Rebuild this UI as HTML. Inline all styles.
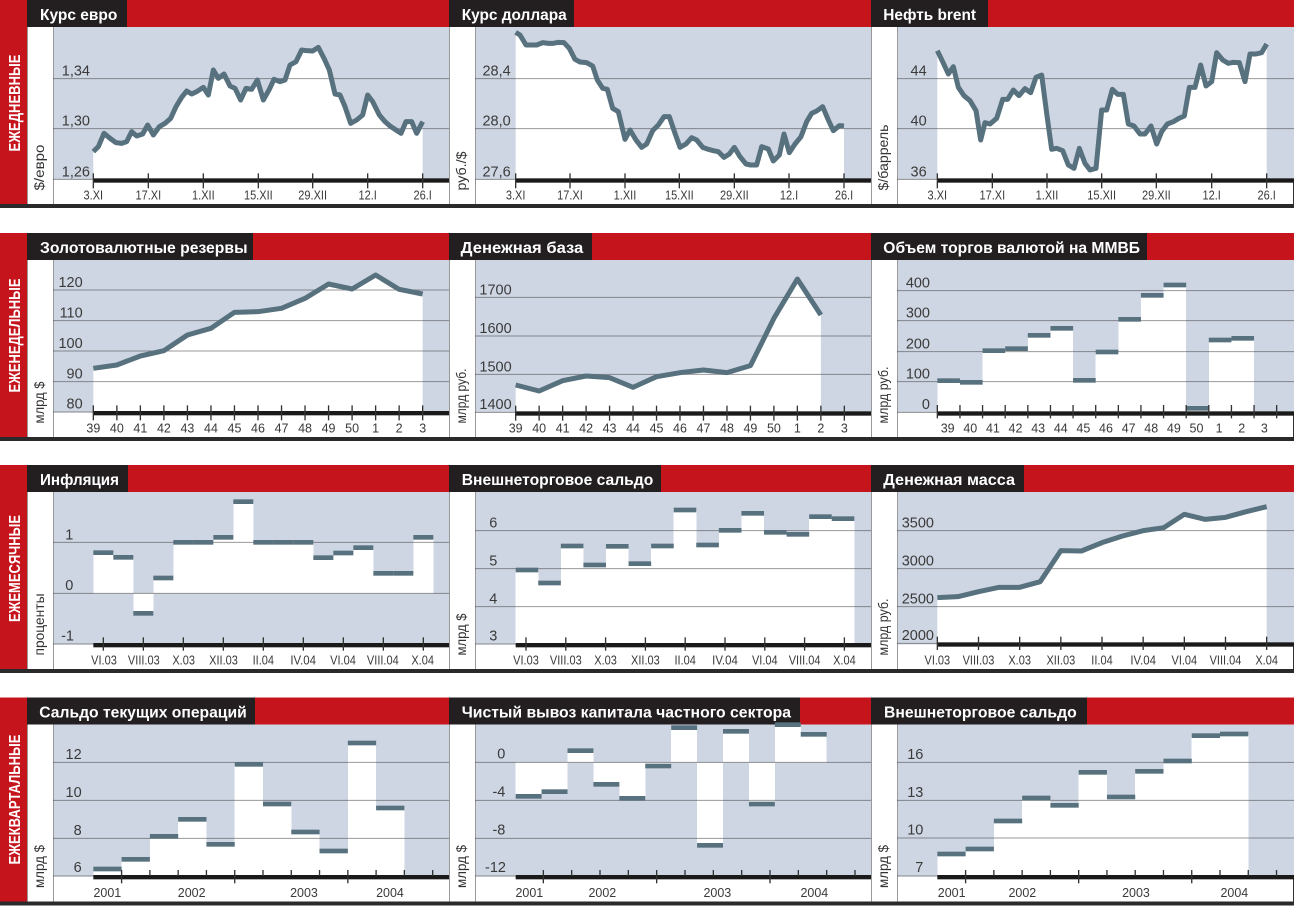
<!DOCTYPE html>
<html><head><meta charset="utf-8"><style>
html,body{margin:0;padding:0;background:#fff;width:1294px;height:907px;overflow:hidden}
svg{display:block}
.red{fill:#c5141c}.blk{fill:#231f20}.bg{fill:#cfd6e3}
.gl{stroke:#333;stroke-opacity:.5;stroke-width:3}
.ln{fill:none;stroke:#57717e;stroke-width:15;stroke-linejoin:round}
.w{fill:#fff}.w rect{shape-rendering:crispEdges}.d{fill:#57717e}.ax{fill:#1a1a1a}
.tk{stroke:#333;stroke-width:4}
.yl{font-size:43.5px;fill:#3a3a3a;text-anchor:end}
.xl{font-size:37.5px;fill:#3a3a3a;text-anchor:middle}
.ttl{font-size:16px;font-weight:bold;fill:#fff}
.unit{font-size:14px;fill:#333}
.side{font-size:16px;font-weight:bold;fill:#fff;text-anchor:middle}
.vl{stroke:#999;stroke-width:1}
.bl{fill:#2a2a2a}
</style></head><body>
<svg width="1294" height="907" viewBox="0 0 1294 907" font-family="'Liberation Sans', 'DejaVu Sans', sans-serif">

<!-- Row 1 T=0 -->
<rect class="red" x="0" y="0" width="1294" height="27"/>
<rect class="red" x="0" y="0" width="27" height="204"/>
<rect class="bg" x="53" y="27" width="396" height="152.5"/>
<rect class="bg" x="475" y="27" width="396" height="152.5"/>
<rect class="bg" x="897" y="27" width="397" height="152.5"/>
<rect class="bl" x="0" y="204" width="1294" height="4"/>
<rect class="blk" x="27" y="0" width="100" height="27"/>
<rect class="blk" x="449" y="0" width="125" height="27"/>
<rect class="blk" x="871" y="0" width="117" height="27"/>
<text class="ttl" x="40" y="20" textLength="77.3" lengthAdjust="spacingAndGlyphs">Курс евро</text>
<text class="ttl" x="461.7" y="20" textLength="105" lengthAdjust="spacingAndGlyphs">Курс доллара</text>
<text class="ttl" x="883.3" y="20" textLength="92.7" lengthAdjust="spacingAndGlyphs">Нефть brent</text>
<text class="side" transform="translate(20,103) rotate(-90)" textLength="97" lengthAdjust="spacingAndGlyphs">ЕЖЕДНЕВНЫЕ</text>
<text class="unit" transform="translate(44,190.5) rotate(-90)" textLength="46" lengthAdjust="spacingAndGlyphs">$/евро</text>
<text class="unit" transform="translate(466,190.5) rotate(-90)" textLength="39" lengthAdjust="spacingAndGlyphs">руб./$</text>
<text class="unit" transform="translate(888,190.5) rotate(-90)" textLength="66" lengthAdjust="spacingAndGlyphs">$/баррель</text>
<g class="vl"><line x1="27.5" y1="27" x2="27.5" y2="204"/><line x1="53.5" y1="27" x2="53.5" y2="204"/><line x1="449.5" y1="27" x2="449.5" y2="204"/><line x1="475.5" y1="27" x2="475.5" y2="204"/><line x1="871.5" y1="27" x2="871.5" y2="204"/><line x1="897.5" y1="27" x2="897.5" y2="204"/></g>
<line x1="1293.5" y1="180" x2="1293.5" y2="204" stroke="#333"/>

<!-- Row 2 T=233 -->
<rect class="red" x="0" y="233" width="1294" height="27"/>
<rect class="red" x="0" y="233" width="27" height="204"/>
<rect class="bg" x="53" y="260" width="396" height="152.5"/>
<rect class="bg" x="475" y="260" width="396" height="152.5"/>
<rect class="bg" x="897" y="260" width="397" height="152.5"/>
<rect class="bl" x="0" y="437" width="1294" height="4"/>
<rect class="blk" x="27" y="233" width="226" height="27"/>
<rect class="blk" x="449" y="233" width="143" height="27"/>
<rect class="blk" x="871" y="233" width="276" height="27"/>
<text class="ttl" x="40" y="253" textLength="207.5" lengthAdjust="spacingAndGlyphs">Золотовалютные резервы</text>
<text class="ttl" x="460.7" y="253" textLength="122.6" lengthAdjust="spacingAndGlyphs">Денежная база</text>
<text class="ttl" x="883.3" y="253" textLength="256.7" lengthAdjust="spacingAndGlyphs">Объем торгов валютой на ММВБ</text>
<text class="side" transform="translate(20,335.5) rotate(-90)" textLength="114" lengthAdjust="spacingAndGlyphs">ЕЖЕНЕДЕЛЬНЫЕ</text>
<text class="unit" transform="translate(44,423.5) rotate(-90)" textLength="42" lengthAdjust="spacingAndGlyphs">млрд $</text>
<text class="unit" transform="translate(466,423.5) rotate(-90)" textLength="55" lengthAdjust="spacingAndGlyphs">млрд руб.</text>
<text class="unit" transform="translate(888,423.5) rotate(-90)" textLength="57" lengthAdjust="spacingAndGlyphs">млрд руб.</text>
<g class="vl"><line x1="27.5" y1="260" x2="27.5" y2="437"/><line x1="53.5" y1="260" x2="53.5" y2="437"/><line x1="449.5" y1="260" x2="449.5" y2="437"/><line x1="475.5" y1="260" x2="475.5" y2="437"/><line x1="871.5" y1="260" x2="871.5" y2="437"/><line x1="897.5" y1="260" x2="897.5" y2="437"/></g>
<line x1="1293.5" y1="413" x2="1293.5" y2="437" stroke="#333"/>

<!-- Row 3 T=465 -->
<rect class="red" x="0" y="465" width="1294" height="27"/>
<rect class="red" x="0" y="465" width="27" height="204"/>
<rect class="bg" x="53" y="492" width="396" height="152.5"/>
<rect class="bg" x="475" y="492" width="396" height="152.5"/>
<rect class="bg" x="897" y="492" width="397" height="152.5"/>
<rect class="bl" x="0" y="669" width="1294" height="4"/>
<rect class="blk" x="27" y="465" width="101" height="27"/>
<rect class="blk" x="449" y="465" width="212" height="27"/>
<rect class="blk" x="871" y="465" width="153" height="27"/>
<text class="ttl" x="40" y="485" textLength="79" lengthAdjust="spacingAndGlyphs">Инфляция</text>
<text class="ttl" x="461.7" y="485" textLength="191.6" lengthAdjust="spacingAndGlyphs">Внешнеторговое сальдо</text>
<text class="ttl" x="883.3" y="485" textLength="131.7" lengthAdjust="spacingAndGlyphs">Денежная масса</text>
<text class="side" transform="translate(20,568.5) rotate(-90)" textLength="107" lengthAdjust="spacingAndGlyphs">ЕЖЕМЕСЯЧНЫЕ</text>
<text class="unit" transform="translate(44,655.5) rotate(-90)" textLength="62" lengthAdjust="spacingAndGlyphs">проценты</text>
<text class="unit" transform="translate(466,655.5) rotate(-90)" textLength="42" lengthAdjust="spacingAndGlyphs">млрд $</text>
<text class="unit" transform="translate(888,655.5) rotate(-90)" textLength="57" lengthAdjust="spacingAndGlyphs">млрд руб.</text>
<g class="vl"><line x1="27.5" y1="492" x2="27.5" y2="669"/><line x1="53.5" y1="492" x2="53.5" y2="669"/><line x1="449.5" y1="492" x2="449.5" y2="669"/><line x1="475.5" y1="492" x2="475.5" y2="669"/><line x1="871.5" y1="492" x2="871.5" y2="669"/><line x1="897.5" y1="492" x2="897.5" y2="669"/></g>
<line x1="1293.5" y1="645" x2="1293.5" y2="669" stroke="#333"/>

<!-- Row 4 T=697.5 -->
<rect class="red" x="0" y="697.5" width="1294" height="27"/>
<rect class="red" x="0" y="697.5" width="27" height="204"/>
<rect class="bg" x="53" y="724.5" width="396" height="152"/>
<rect class="bg" x="475" y="724.5" width="396" height="152"/>
<rect class="bg" x="897" y="724.5" width="397" height="152"/>
<rect class="bl" x="0" y="901.5" width="1294" height="4"/>
<rect class="blk" x="27" y="697.5" width="228" height="27"/>
<rect class="blk" x="449" y="697.5" width="351" height="27"/>
<rect class="blk" x="871" y="697.5" width="216" height="27"/>
<text class="ttl" x="39.3" y="717.5" textLength="207.4" lengthAdjust="spacingAndGlyphs">Сальдо текущих операций</text>
<text class="ttl" x="461.7" y="717.5" textLength="329.3" lengthAdjust="spacingAndGlyphs">Чистый вывоз капитала частного сектора</text>
<text class="ttl" x="884" y="717.5" textLength="192.7" lengthAdjust="spacingAndGlyphs">Внешнеторговое сальдо</text>
<text class="side" transform="translate(20,799.5) rotate(-90)" textLength="130" lengthAdjust="spacingAndGlyphs">ЕЖЕКВАРТАЛЬНЫЕ</text>
<text class="unit" transform="translate(44,888) rotate(-90)" textLength="43" lengthAdjust="spacingAndGlyphs">млрд $</text>
<text class="unit" transform="translate(466,888) rotate(-90)" textLength="43" lengthAdjust="spacingAndGlyphs">млрд $</text>
<text class="unit" transform="translate(888,888) rotate(-90)" textLength="43" lengthAdjust="spacingAndGlyphs">млрд $</text>
<g class="vl"><line x1="27.5" y1="724.5" x2="27.5" y2="901.5"/><line x1="53.5" y1="724.5" x2="53.5" y2="901.5"/><line x1="449.5" y1="724.5" x2="449.5" y2="901.5"/><line x1="475.5" y1="724.5" x2="475.5" y2="901.5"/><line x1="871.5" y1="724.5" x2="871.5" y2="901.5"/><line x1="897.5" y1="724.5" x2="897.5" y2="901.5"/></g>
<line x1="1293.5" y1="877" x2="1293.5" y2="901.5" stroke="#333"/>

<!-- R1P1 -->
<g transform="translate(0,0) scale(0.333333)">
<polygon class="w" points="280,455 295,440 312,400 330,415 348,428 365,430 380,425 395,395 410,408 428,402 443,375 460,405 478,380 495,370 512,355 528,320 545,292 560,273 575,282 590,275 610,262 625,285 640,210 655,235 672,222 690,258 705,265 722,300 738,265 755,268 772,240 790,300 808,268 822,238 840,245 855,240 870,195 888,185 905,150 920,152 938,153 955,142 972,175 988,210 1005,282 1020,285 1035,320 1052,370 1070,360 1088,345 1103,285 1118,305 1138,345 1155,365 1170,378 1188,390 1203,400 1218,365 1235,365 1250,400 1268,365 1268,540 280,540"/>
<g class="gl"><line x1="159" y1="236" x2="1347" y2="236"/><line x1="159" y1="386" x2="1347" y2="386"/><line x1="159" y1="538" x2="1347" y2="538"/></g>
<polyline class="ln" points="280,455 295,440 312,400 330,415 348,428 365,430 380,425 395,395 410,408 428,402 443,375 460,405 478,380 495,370 512,355 528,320 545,292 560,273 575,282 590,275 610,262 625,285 640,210 655,235 672,222 690,258 705,265 722,300 738,265 755,268 772,240 790,300 808,268 822,238 840,245 855,240 870,195 888,185 905,150 920,152 938,153 955,142 972,175 988,210 1005,282 1020,285 1035,320 1052,370 1070,360 1088,345 1103,285 1118,305 1138,345 1155,365 1170,378 1188,390 1203,400 1218,365 1235,365 1250,400 1268,365"/>
<rect class="ax" x="280" y="535" width="1067" height="13"/>
<g class="tk"><line x1="280" y1="520" x2="280" y2="565"/><line x1="445" y1="520" x2="445" y2="565"/><line x1="610" y1="520" x2="610" y2="565"/><line x1="775" y1="520" x2="775" y2="565"/><line x1="938" y1="520" x2="938" y2="565"/><line x1="1103" y1="520" x2="1103" y2="565"/><line x1="1268" y1="520" x2="1268" y2="565"/></g>
<text class="yl" x="270" y="227">1,34</text><text class="yl" x="270" y="377">1,30</text><text class="yl" x="270" y="529">1,26</text>
<text class="xl" x="280" y="598.5" textLength="58.7" lengthAdjust="spacingAndGlyphs">3.XI</text>
<text class="xl" x="445" y="598.5" textLength="77" lengthAdjust="spacingAndGlyphs">17.XI</text>
<text class="xl" x="610" y="598.5" textLength="67.9" lengthAdjust="spacingAndGlyphs">1.XII</text>
<text class="xl" x="775" y="598.5" textLength="86.2" lengthAdjust="spacingAndGlyphs">15.XII</text>
<text class="xl" x="938" y="598.5" textLength="86.2" lengthAdjust="spacingAndGlyphs">29.XII</text>
<text class="xl" x="1103" y="598.5" textLength="55" lengthAdjust="spacingAndGlyphs">12.I</text>
<text class="xl" x="1268" y="598.5" textLength="55" lengthAdjust="spacingAndGlyphs">26.I</text>
</g>

<!-- R1P2 -->
<g transform="translate(440,0) scale(0.333333)">
<polygon class="w" points="227,97 240,105 258,135 275,135 290,135 308,128 325,130 340,130 355,127 372,128 388,145 405,178 420,186 440,188 458,198 472,240 488,265 502,268 518,325 535,335 555,418 570,390 588,420 605,442 620,432 638,392 655,375 672,350 688,350 705,400 720,442 738,432 755,413 770,420 788,442 805,448 820,452 835,455 852,472 868,462 883,442 900,470 918,492 932,495 950,495 965,440 985,447 1000,483 1018,465 1032,402 1048,458 1065,432 1083,410 1100,365 1115,340 1130,333 1148,320 1165,360 1180,392 1198,377 1212,378 1212,540 227,540"/>
<g class="gl"><line x1="105" y1="236" x2="1293" y2="236"/><line x1="105" y1="386" x2="1293" y2="386"/><line x1="105" y1="538" x2="1293" y2="538"/></g>
<polyline class="ln" points="227,97 240,105 258,135 275,135 290,135 308,128 325,130 340,130 355,127 372,128 388,145 405,178 420,186 440,188 458,198 472,240 488,265 502,268 518,325 535,335 555,418 570,390 588,420 605,442 620,432 638,392 655,375 672,350 688,350 705,400 720,442 738,432 755,413 770,420 788,442 805,448 820,452 835,455 852,472 868,462 883,442 900,470 918,492 932,495 950,495 965,440 985,447 1000,483 1018,465 1032,402 1048,458 1065,432 1083,410 1100,365 1115,340 1130,333 1148,320 1165,360 1180,392 1198,377 1212,378"/>
<rect class="ax" x="227" y="535" width="1066" height="13"/>
<g class="tk"><line x1="227" y1="520" x2="227" y2="565"/><line x1="390" y1="520" x2="390" y2="565"/><line x1="555" y1="520" x2="555" y2="565"/><line x1="718" y1="520" x2="718" y2="565"/><line x1="883" y1="520" x2="883" y2="565"/><line x1="1047" y1="520" x2="1047" y2="565"/><line x1="1212" y1="520" x2="1212" y2="565"/></g>
<text class="yl" x="212" y="227">28,4</text><text class="yl" x="212" y="377">28,0</text><text class="yl" x="212" y="529">27,6</text>
<text class="xl" x="227" y="598.5" textLength="58.7" lengthAdjust="spacingAndGlyphs">3.XI</text>
<text class="xl" x="390" y="598.5" textLength="77" lengthAdjust="spacingAndGlyphs">17.XI</text>
<text class="xl" x="555" y="598.5" textLength="67.9" lengthAdjust="spacingAndGlyphs">1.XII</text>
<text class="xl" x="718" y="598.5" textLength="86.2" lengthAdjust="spacingAndGlyphs">15.XII</text>
<text class="xl" x="883" y="598.5" textLength="86.2" lengthAdjust="spacingAndGlyphs">29.XII</text>
<text class="xl" x="1047" y="598.5" textLength="55" lengthAdjust="spacingAndGlyphs">12.I</text>
<text class="xl" x="1212" y="598.5" textLength="55" lengthAdjust="spacingAndGlyphs">26.I</text>
</g>

<!-- R1P3 -->
<g transform="translate(860,0) scale(0.333333)">
<polygon class="w" points="232,152 248,185 265,222 280,200 295,262 312,287 330,302 348,332 362,420 375,368 390,372 410,355 428,298 443,298 460,270 477,287 495,266 512,278 528,232 545,225 560,340 575,448 590,445 608,452 625,495 642,505 658,445 675,490 690,510 708,505 725,330 740,330 757,268 773,283 790,283 805,372 822,378 840,402 855,402 873,378 890,432 905,395 922,372 940,365 957,355 973,348 988,262 1005,262 1022,195 1038,258 1055,245 1070,158 1088,180 1105,190 1120,187 1138,188 1155,245 1170,162 1188,162 1205,158 1220,132 1220,540 232,540"/>
<g class="gl"><line x1="111" y1="236" x2="1302" y2="236"/><line x1="111" y1="386" x2="1302" y2="386"/><line x1="111" y1="538" x2="1302" y2="538"/></g>
<polyline class="ln" points="232,152 248,185 265,222 280,200 295,262 312,287 330,302 348,332 362,420 375,368 390,372 410,355 428,298 443,298 460,270 477,287 495,266 512,278 528,232 545,225 560,340 575,448 590,445 608,452 625,495 642,505 658,445 675,490 690,510 708,505 725,330 740,330 757,268 773,283 790,283 805,372 822,378 840,402 855,402 873,378 890,432 905,395 922,372 940,365 957,355 973,348 988,262 1005,262 1022,195 1038,258 1055,245 1070,158 1088,180 1105,190 1120,187 1138,188 1155,245 1170,162 1188,162 1205,158 1220,132"/>
<rect class="ax" x="232" y="535" width="1070" height="13"/>
<g class="tk"><line x1="232" y1="520" x2="232" y2="565"/><line x1="397" y1="520" x2="397" y2="565"/><line x1="561" y1="520" x2="561" y2="565"/><line x1="725" y1="520" x2="725" y2="565"/><line x1="889" y1="520" x2="889" y2="565"/><line x1="1055" y1="520" x2="1055" y2="565"/><line x1="1220" y1="520" x2="1220" y2="565"/></g>
<text class="yl" x="200" y="227">44</text><text class="yl" x="200" y="377">40</text><text class="yl" x="200" y="529">36</text>
<text class="xl" x="232" y="598.5" textLength="58.7" lengthAdjust="spacingAndGlyphs">3.XI</text>
<text class="xl" x="397" y="598.5" textLength="77" lengthAdjust="spacingAndGlyphs">17.XI</text>
<text class="xl" x="561" y="598.5" textLength="67.9" lengthAdjust="spacingAndGlyphs">1.XII</text>
<text class="xl" x="725" y="598.5" textLength="86.2" lengthAdjust="spacingAndGlyphs">15.XII</text>
<text class="xl" x="889" y="598.5" textLength="86.2" lengthAdjust="spacingAndGlyphs">29.XII</text>
<text class="xl" x="1055" y="598.5" textLength="55" lengthAdjust="spacingAndGlyphs">12.I</text>
<text class="xl" x="1220" y="598.5" textLength="55" lengthAdjust="spacingAndGlyphs">26.I</text>
</g>

<!-- R2P1 -->
<g transform="translate(0,200) scale(0.333333)">
<polygon class="w" points="280,505 350.6,495 421.1,468 491.7,452 562.3,405 632.9,385 703.4,337 774,335 844.6,325 915.1,295 985.7,252 1056.3,267 1126.9,225 1197.4,268 1268,282 1268,636 280,636"/>
<g class="gl"><line x1="159" y1="270" x2="1347" y2="270"/><line x1="159" y1="362" x2="1347" y2="362"/><line x1="159" y1="453" x2="1347" y2="453"/><line x1="159" y1="545" x2="1347" y2="545"/><line x1="159" y1="636" x2="1347" y2="636"/></g>
<polyline class="ln" points="280,505 350.6,495 421.1,468 491.7,452 562.3,405 632.9,385 703.4,337 774,335 844.6,325 915.1,295 985.7,252 1056.3,267 1126.9,225 1197.4,268 1268,282"/>
<rect class="ax" x="280" y="633" width="1067" height="13"/>
<g class="tk"><line x1="280" y1="616" x2="280" y2="661"/><line x1="350.6" y1="616" x2="350.6" y2="661"/><line x1="421.1" y1="616" x2="421.1" y2="661"/><line x1="491.7" y1="616" x2="491.7" y2="661"/><line x1="562.3" y1="616" x2="562.3" y2="661"/><line x1="632.9" y1="616" x2="632.9" y2="661"/><line x1="703.4" y1="616" x2="703.4" y2="661"/><line x1="774" y1="616" x2="774" y2="661"/><line x1="844.6" y1="616" x2="844.6" y2="661"/><line x1="915.1" y1="616" x2="915.1" y2="661"/><line x1="985.7" y1="616" x2="985.7" y2="661"/><line x1="1056.3" y1="616" x2="1056.3" y2="661"/><line x1="1126.9" y1="616" x2="1126.9" y2="661"/><line x1="1197.4" y1="616" x2="1197.4" y2="661"/><line x1="1268" y1="616" x2="1268" y2="661"/></g>
<text class="yl" x="248" y="261">120</text><text class="yl" x="248" y="353">110</text><text class="yl" x="248" y="444">100</text><text class="yl" x="248" y="536">90</text><text class="yl" x="248" y="626">80</text>
<text class="xl" x="280" y="697.5">39</text><text class="xl" x="350.6" y="697.5">40</text><text class="xl" x="421.1" y="697.5">41</text><text class="xl" x="491.7" y="697.5">42</text><text class="xl" x="562.3" y="697.5">43</text><text class="xl" x="632.9" y="697.5">44</text><text class="xl" x="703.4" y="697.5">45</text><text class="xl" x="774" y="697.5">46</text><text class="xl" x="844.6" y="697.5">47</text><text class="xl" x="915.1" y="697.5">48</text><text class="xl" x="985.7" y="697.5">49</text><text class="xl" x="1056.3" y="697.5">50</text><text class="xl" x="1126.9" y="697.5">1</text><text class="xl" x="1197.4" y="697.5">2</text><text class="xl" x="1268" y="697.5">3</text>
</g>

<!-- R2P2 -->
<g transform="translate(440,225) scale(0.333333)">
<polygon class="w" points="227,480 297.4,498 367.9,467 438.3,453 508.7,458 579.1,487 649.6,455 720,443 790.4,435 860.9,443 931.3,422 1001.7,280 1072.1,162 1142.6,270 1142.6,562 227,562"/>
<g class="gl"><line x1="105" y1="217" x2="1293" y2="217"/><line x1="105" y1="333" x2="1293" y2="333"/><line x1="105" y1="448" x2="1293" y2="448"/><line x1="105" y1="562" x2="1293" y2="562"/></g>
<polyline class="ln" points="227,480 297.4,498 367.9,467 438.3,453 508.7,458 579.1,487 649.6,455 720,443 790.4,435 860.9,443 931.3,422 1001.7,280 1072.1,162 1142.6,270"/>
<rect class="ax" x="227" y="559" width="1066" height="13"/>
<g class="tk"><line x1="227" y1="542" x2="227" y2="587"/><line x1="297.4" y1="542" x2="297.4" y2="587"/><line x1="367.9" y1="542" x2="367.9" y2="587"/><line x1="438.3" y1="542" x2="438.3" y2="587"/><line x1="508.7" y1="542" x2="508.7" y2="587"/><line x1="579.1" y1="542" x2="579.1" y2="587"/><line x1="649.6" y1="542" x2="649.6" y2="587"/><line x1="720" y1="542" x2="720" y2="587"/><line x1="790.4" y1="542" x2="790.4" y2="587"/><line x1="860.9" y1="542" x2="860.9" y2="587"/><line x1="931.3" y1="542" x2="931.3" y2="587"/><line x1="1001.7" y1="542" x2="1001.7" y2="587"/><line x1="1072.1" y1="542" x2="1072.1" y2="587"/><line x1="1142.6" y1="542" x2="1142.6" y2="587"/><line x1="1213" y1="542" x2="1213" y2="587"/></g>
<text class="yl" x="215" y="208">1700</text><text class="yl" x="215" y="324">1600</text><text class="yl" x="215" y="439">1500</text><text class="yl" x="215" y="552">1400</text>
<text class="xl" x="227" y="622.5">39</text><text class="xl" x="297.4" y="622.5">40</text><text class="xl" x="367.9" y="622.5">41</text><text class="xl" x="438.3" y="622.5">42</text><text class="xl" x="508.7" y="622.5">43</text><text class="xl" x="579.1" y="622.5">44</text><text class="xl" x="649.6" y="622.5">45</text><text class="xl" x="720" y="622.5">46</text><text class="xl" x="790.4" y="622.5">47</text><text class="xl" x="860.9" y="622.5">48</text><text class="xl" x="931.3" y="622.5">49</text><text class="xl" x="1001.7" y="622.5">50</text><text class="xl" x="1072.1" y="622.5">1</text><text class="xl" x="1142.6" y="622.5">2</text><text class="xl" x="1213" y="622.5">3</text>
</g>

<!-- R2P3 -->
<g transform="translate(860,225) scale(0.333333)">
<g class="w">
<rect x="232" y="467" width="67.9" height="95"/><rect x="299.9" y="472" width="67.9" height="90"/><rect x="367.7" y="377" width="67.9" height="185"/><rect x="435.6" y="371" width="67.9" height="191"/><rect x="503.5" y="331" width="67.9" height="231"/><rect x="571.4" y="310" width="67.9" height="252"/><rect x="639.2" y="466" width="67.9" height="96"/><rect x="707.1" y="381" width="67.9" height="181"/><rect x="775" y="283" width="67.9" height="279"/><rect x="842.8" y="211" width="67.9" height="351"/><rect x="910.7" y="180" width="67.9" height="382"/><rect x="978.6" y="550" width="67.9" height="12"/><rect x="1046.4" y="345" width="67.9" height="217"/><rect x="1114.3" y="340" width="67.9" height="222"/>
</g>
<g class="gl"><line x1="111" y1="197" x2="1302" y2="197"/><line x1="111" y1="287" x2="1302" y2="287"/><line x1="111" y1="380" x2="1302" y2="380"/><line x1="111" y1="470" x2="1302" y2="470"/><line x1="111" y1="562" x2="1302" y2="562"/></g>
<g class="d">
<rect x="232" y="460" width="67.9" height="14"/><rect x="299.9" y="465" width="67.9" height="14"/><rect x="367.7" y="370" width="67.9" height="14"/><rect x="435.6" y="364" width="67.9" height="14"/><rect x="503.5" y="324" width="67.9" height="14"/><rect x="571.4" y="303" width="67.9" height="14"/><rect x="639.2" y="459" width="67.9" height="14"/><rect x="707.1" y="374" width="67.9" height="14"/><rect x="775" y="276" width="67.9" height="14"/><rect x="842.8" y="204" width="67.9" height="14"/><rect x="910.7" y="173" width="67.9" height="14"/><rect x="978.6" y="543" width="67.9" height="14"/><rect x="1046.4" y="338" width="67.9" height="14"/><rect x="1114.3" y="333" width="67.9" height="14"/>
</g>
<rect class="ax" x="232" y="559" width="1070" height="13"/>
<g class="tk"><line x1="232" y1="540" x2="232" y2="580"/><line x1="299.9" y1="540" x2="299.9" y2="580"/><line x1="367.7" y1="540" x2="367.7" y2="580"/><line x1="435.6" y1="540" x2="435.6" y2="580"/><line x1="503.5" y1="540" x2="503.5" y2="580"/><line x1="571.4" y1="540" x2="571.4" y2="580"/><line x1="639.2" y1="540" x2="639.2" y2="580"/><line x1="707.1" y1="540" x2="707.1" y2="580"/><line x1="775" y1="540" x2="775" y2="580"/><line x1="842.8" y1="540" x2="842.8" y2="580"/><line x1="910.7" y1="540" x2="910.7" y2="580"/><line x1="978.6" y1="540" x2="978.6" y2="580"/><line x1="1046.4" y1="540" x2="1046.4" y2="580"/><line x1="1114.3" y1="540" x2="1114.3" y2="580"/><line x1="1182.2" y1="540" x2="1182.2" y2="580"/><line x1="1250" y1="540" x2="1250" y2="580"/></g>
<text class="yl" x="210" y="188">400</text><text class="yl" x="210" y="278">300</text><text class="yl" x="210" y="371">200</text><text class="yl" x="210" y="461">100</text><text class="yl" x="210" y="552">0</text>
<text class="xl" x="262.9" y="622.5">39</text><text class="xl" x="330.8" y="622.5">40</text><text class="xl" x="398.7" y="622.5">41</text><text class="xl" x="466.5" y="622.5">42</text><text class="xl" x="534.4" y="622.5">43</text><text class="xl" x="602.3" y="622.5">44</text><text class="xl" x="670.1" y="622.5">45</text><text class="xl" x="738" y="622.5">46</text><text class="xl" x="805.9" y="622.5">47</text><text class="xl" x="873.7" y="622.5">48</text><text class="xl" x="941.6" y="622.5">49</text><text class="xl" x="1009.5" y="622.5">50</text><text class="xl" x="1077.3" y="622.5">1</text><text class="xl" x="1145.2" y="622.5">2</text><text class="xl" x="1213.1" y="622.5">3</text>
</g>

<!-- R3P1 -->
<g transform="translate(0,440) scale(0.333333)">
<g class="w">
<rect x="280" y="338" width="60" height="122"/><rect x="340" y="352" width="60" height="108"/><rect x="400" y="460" width="60" height="60"/><rect x="460" y="414" width="60" height="46"/><rect x="520" y="307" width="60" height="153"/><rect x="580" y="307" width="60" height="153"/><rect x="640" y="292" width="60" height="168"/><rect x="700" y="185" width="60" height="275"/><rect x="760" y="307" width="60" height="153"/><rect x="820" y="307" width="60" height="153"/><rect x="880" y="307" width="60" height="153"/><rect x="940" y="353" width="60" height="107"/><rect x="1000" y="339" width="60" height="121"/><rect x="1060" y="323" width="60" height="137"/><rect x="1120" y="400" width="60" height="60"/><rect x="1180" y="400" width="60" height="60"/><rect x="1240" y="292" width="60" height="168"/>
</g>
<g class="gl"><line x1="159" y1="307" x2="1347" y2="307"/><line x1="159" y1="460" x2="1347" y2="460"/><line x1="159" y1="612" x2="1347" y2="612"/></g>
<g class="d">
<rect x="280" y="331" width="60" height="14"/><rect x="340" y="345" width="60" height="14"/><rect x="400" y="513" width="60" height="14"/><rect x="460" y="407" width="60" height="14"/><rect x="520" y="300" width="60" height="14"/><rect x="580" y="300" width="60" height="14"/><rect x="640" y="285" width="60" height="14"/><rect x="700" y="178" width="60" height="14"/><rect x="760" y="300" width="60" height="14"/><rect x="820" y="300" width="60" height="14"/><rect x="880" y="300" width="60" height="14"/><rect x="940" y="346" width="60" height="14"/><rect x="1000" y="332" width="60" height="14"/><rect x="1060" y="316" width="60" height="14"/><rect x="1120" y="393" width="60" height="14"/><rect x="1180" y="393" width="60" height="14"/><rect x="1240" y="285" width="60" height="14"/>
</g>
<rect class="ax" x="280" y="609" width="1067" height="13"/>
<g class="tk"><line x1="310" y1="592" x2="310" y2="632"/><line x1="430" y1="592" x2="430" y2="632"/><line x1="550" y1="592" x2="550" y2="632"/><line x1="670" y1="592" x2="670" y2="632"/><line x1="790" y1="592" x2="790" y2="632"/><line x1="910" y1="592" x2="910" y2="632"/><line x1="1030" y1="592" x2="1030" y2="632"/><line x1="1150" y1="592" x2="1150" y2="632"/><line x1="1270" y1="592" x2="1270" y2="632"/></g>
<text class="yl" x="220" y="298">1</text><text class="yl" x="220" y="450">0</text><text class="yl" x="222" y="601">-1</text>
<text class="xl" x="312" y="673.5" textLength="77" lengthAdjust="spacingAndGlyphs">VI.03</text>
<text class="xl" x="431.5" y="673.5" textLength="95.4" lengthAdjust="spacingAndGlyphs">VIII.03</text>
<text class="xl" x="551" y="673.5" textLength="67.9" lengthAdjust="spacingAndGlyphs">X.03</text>
<text class="xl" x="670.5" y="673.5" textLength="86.2" lengthAdjust="spacingAndGlyphs">XII.03</text>
<text class="xl" x="790" y="673.5" textLength="64.2" lengthAdjust="spacingAndGlyphs">II.04</text>
<text class="xl" x="909.5" y="673.5" textLength="77" lengthAdjust="spacingAndGlyphs">IV.04</text>
<text class="xl" x="1029" y="673.5" textLength="77" lengthAdjust="spacingAndGlyphs">VI.04</text>
<text class="xl" x="1148.5" y="673.5" textLength="95.4" lengthAdjust="spacingAndGlyphs">VIII.04</text>
<text class="xl" x="1268" y="673.5" textLength="67.9" lengthAdjust="spacingAndGlyphs">X.04</text>
</g>

<!-- R3P2 -->
<g transform="translate(440,460) scale(0.333333)">
<g class="w">
<rect x="227" y="330" width="67.8" height="222"/><rect x="294.7" y="369" width="67.8" height="183"/><rect x="362.5" y="258" width="67.8" height="294"/><rect x="430.2" y="315" width="67.8" height="237"/><rect x="497.9" y="259" width="67.8" height="293"/><rect x="565.7" y="311" width="67.8" height="241"/><rect x="633.4" y="258" width="67.8" height="294"/><rect x="701.1" y="150" width="67.8" height="402"/><rect x="768.8" y="255" width="67.8" height="297"/><rect x="836.6" y="211" width="67.8" height="341"/><rect x="904.3" y="160" width="67.8" height="392"/><rect x="972" y="217" width="67.8" height="335"/><rect x="1039.8" y="223" width="67.8" height="329"/><rect x="1107.5" y="170" width="67.8" height="382"/><rect x="1175.2" y="176" width="67.8" height="376"/>
</g>
<g class="gl"><line x1="105" y1="212" x2="1293" y2="212"/><line x1="105" y1="326" x2="1293" y2="326"/><line x1="105" y1="440" x2="1293" y2="440"/><line x1="105" y1="552" x2="1293" y2="552"/></g>
<g class="d">
<rect x="227" y="323" width="67.8" height="14"/><rect x="294.7" y="362" width="67.8" height="14"/><rect x="362.5" y="251" width="67.8" height="14"/><rect x="430.2" y="308" width="67.8" height="14"/><rect x="497.9" y="252" width="67.8" height="14"/><rect x="565.7" y="304" width="67.8" height="14"/><rect x="633.4" y="251" width="67.8" height="14"/><rect x="701.1" y="143" width="67.8" height="14"/><rect x="768.8" y="248" width="67.8" height="14"/><rect x="836.6" y="204" width="67.8" height="14"/><rect x="904.3" y="153" width="67.8" height="14"/><rect x="972" y="210" width="67.8" height="14"/><rect x="1039.8" y="216" width="67.8" height="14"/><rect x="1107.5" y="163" width="67.8" height="14"/><rect x="1175.2" y="169" width="67.8" height="14"/>
</g>
<rect class="ax" x="227" y="549" width="1066" height="13"/>
<g class="tk"><line x1="258" y1="532" x2="258" y2="572"/><line x1="377.4" y1="532" x2="377.4" y2="572"/><line x1="496.8" y1="532" x2="496.8" y2="572"/><line x1="616.2" y1="532" x2="616.2" y2="572"/><line x1="735.6" y1="532" x2="735.6" y2="572"/><line x1="855" y1="532" x2="855" y2="572"/><line x1="974.4" y1="532" x2="974.4" y2="572"/><line x1="1093.8" y1="532" x2="1093.8" y2="572"/><line x1="1213.2" y1="532" x2="1213.2" y2="572"/></g>
<text class="yl" x="172" y="202">6</text><text class="yl" x="172" y="316">5</text><text class="yl" x="172" y="430">4</text><text class="yl" x="172" y="541">3</text>
<text class="xl" x="258" y="613.5" textLength="77" lengthAdjust="spacingAndGlyphs">VI.03</text>
<text class="xl" x="377.4" y="613.5" textLength="95.4" lengthAdjust="spacingAndGlyphs">VIII.03</text>
<text class="xl" x="496.8" y="613.5" textLength="67.9" lengthAdjust="spacingAndGlyphs">X.03</text>
<text class="xl" x="616.2" y="613.5" textLength="86.2" lengthAdjust="spacingAndGlyphs">XII.03</text>
<text class="xl" x="735.6" y="613.5" textLength="64.2" lengthAdjust="spacingAndGlyphs">II.04</text>
<text class="xl" x="855" y="613.5" textLength="77" lengthAdjust="spacingAndGlyphs">IV.04</text>
<text class="xl" x="974.4" y="613.5" textLength="77" lengthAdjust="spacingAndGlyphs">VI.04</text>
<text class="xl" x="1093.8" y="613.5" textLength="95.4" lengthAdjust="spacingAndGlyphs">VIII.04</text>
<text class="xl" x="1213.2" y="613.5" textLength="67.9" lengthAdjust="spacingAndGlyphs">X.04</text>
</g>

<!-- R3P3 -->
<g transform="translate(860,460) scale(0.333333)">
<polygon class="w" points="232,413 293.75,410 355.5,395 417.25,382 479,382 540.75,365 602.5,272 664.25,273 726,248 787.75,228 849.5,212 911.25,203 973,163 1034.75,178 1096.5,172 1158.25,155 1220,140 1220,550 232,550"/>
<g class="gl"><line x1="111" y1="212" x2="1302" y2="212"/><line x1="111" y1="326" x2="1302" y2="326"/><line x1="111" y1="440" x2="1302" y2="440"/><line x1="111" y1="550" x2="1302" y2="550"/></g>
<polyline class="ln" points="232,413 293.75,410 355.5,395 417.25,382 479,382 540.75,365 602.5,272 664.25,273 726,248 787.75,228 849.5,212 911.25,203 973,163 1034.75,178 1096.5,172 1158.25,155 1220,140"/>
<rect class="ax" x="232" y="547" width="1070" height="13"/>
<g class="tk"><line x1="232" y1="530" x2="232" y2="570"/><line x1="355.5" y1="530" x2="355.5" y2="570"/><line x1="479" y1="530" x2="479" y2="570"/><line x1="602.5" y1="530" x2="602.5" y2="570"/><line x1="726" y1="530" x2="726" y2="570"/><line x1="849.5" y1="530" x2="849.5" y2="570"/><line x1="973" y1="530" x2="973" y2="570"/><line x1="1096.5" y1="530" x2="1096.5" y2="570"/><line x1="1220" y1="530" x2="1220" y2="570"/></g>
<text class="yl" x="222" y="202">3500</text><text class="yl" x="222" y="316">3000</text><text class="yl" x="222" y="430">2500</text><text class="yl" x="222" y="540">2000</text>
<text class="xl" x="232" y="613.5" textLength="77" lengthAdjust="spacingAndGlyphs">VI.03</text>
<text class="xl" x="355.5" y="613.5" textLength="95.4" lengthAdjust="spacingAndGlyphs">VIII.03</text>
<text class="xl" x="479" y="613.5" textLength="67.9" lengthAdjust="spacingAndGlyphs">X.03</text>
<text class="xl" x="602.5" y="613.5" textLength="86.2" lengthAdjust="spacingAndGlyphs">XII.03</text>
<text class="xl" x="726" y="613.5" textLength="64.2" lengthAdjust="spacingAndGlyphs">II.04</text>
<text class="xl" x="849.5" y="613.5" textLength="77" lengthAdjust="spacingAndGlyphs">IV.04</text>
<text class="xl" x="973" y="613.5" textLength="77" lengthAdjust="spacingAndGlyphs">VI.04</text>
<text class="xl" x="1096.5" y="613.5" textLength="95.4" lengthAdjust="spacingAndGlyphs">VIII.04</text>
<text class="xl" x="1220" y="613.5" textLength="67.9" lengthAdjust="spacingAndGlyphs">X.04</text>
</g>

<!-- R4P1 -->
<g transform="translate(0,670) scale(0.333333)">
<g class="w">
<rect x="280" y="597" width="84.9" height="21"/><rect x="364.8" y="568" width="84.9" height="50"/><rect x="449.7" y="499" width="84.9" height="119"/><rect x="534.5" y="448" width="84.9" height="170"/><rect x="619.3" y="523" width="84.9" height="95"/><rect x="704.2" y="283" width="84.9" height="335"/><rect x="789" y="402" width="84.9" height="216"/><rect x="873.8" y="486" width="84.9" height="132"/><rect x="958.6" y="543" width="84.9" height="75"/><rect x="1043.5" y="219" width="84.9" height="399"/><rect x="1128.3" y="414" width="84.9" height="204"/>
</g>
<g class="gl"><line x1="159" y1="277" x2="1347" y2="277"/><line x1="159" y1="391" x2="1347" y2="391"/><line x1="159" y1="505" x2="1347" y2="505"/><line x1="159" y1="618" x2="1347" y2="618"/></g>
<g class="d">
<rect x="280" y="590" width="84.9" height="14"/><rect x="364.8" y="561" width="84.9" height="14"/><rect x="449.7" y="492" width="84.9" height="14"/><rect x="534.5" y="441" width="84.9" height="14"/><rect x="619.3" y="516" width="84.9" height="14"/><rect x="704.2" y="276" width="84.9" height="14"/><rect x="789" y="395" width="84.9" height="14"/><rect x="873.8" y="479" width="84.9" height="14"/><rect x="958.6" y="536" width="84.9" height="14"/><rect x="1043.5" y="212" width="84.9" height="14"/><rect x="1128.3" y="407" width="84.9" height="14"/>
</g>
<rect class="ax" x="280" y="615" width="1067" height="13"/>
<g class="tk"><line x1="364.8" y1="600" x2="364.8" y2="640"/><line x1="449.7" y1="600" x2="449.7" y2="618"/><line x1="534.5" y1="600" x2="534.5" y2="618"/><line x1="619.3" y1="600" x2="619.3" y2="618"/><line x1="704.2" y1="600" x2="704.2" y2="640"/><line x1="789" y1="600" x2="789" y2="618"/><line x1="873.8" y1="600" x2="873.8" y2="618"/><line x1="958.6" y1="600" x2="958.6" y2="618"/><line x1="1043.5" y1="600" x2="1043.5" y2="640"/><line x1="1128.3" y1="600" x2="1128.3" y2="618"/><line x1="1213.1" y1="600" x2="1213.1" y2="618"/><line x1="1298" y1="600" x2="1298" y2="618"/></g>
<text class="yl" x="245" y="267">12</text><text class="yl" x="245" y="381">10</text><text class="yl" x="245" y="495">8</text><text class="yl" x="245" y="606">6</text>
<text class="xl" x="322" y="681">2001</text><text class="xl" x="575" y="681">2002</text><text class="xl" x="912" y="681">2003</text><text class="xl" x="1170" y="681">2004</text>
</g>

<!-- R4P2 -->
<g transform="translate(440,690) scale(0.333333)">
<g class="w">
<rect x="227" y="217" width="77.8" height="102"/><rect x="304.75" y="217" width="77.8" height="88"/><rect x="382.5" y="182" width="77.8" height="35"/><rect x="460.25" y="217" width="77.8" height="66"/><rect x="538" y="217" width="77.8" height="108"/><rect x="615.75" y="217" width="77.8" height="11"/><rect x="693.5" y="113" width="77.8" height="104"/><rect x="771.25" y="217" width="77.8" height="249"/><rect x="849" y="124" width="77.8" height="93"/><rect x="926.75" y="217" width="77.8" height="125"/><rect x="1004.5" y="104" width="77.8" height="113"/><rect x="1082.25" y="133" width="77.8" height="84"/>
</g>
<g class="gl"><line x1="105" y1="217" x2="1293" y2="217"/><line x1="105" y1="331" x2="1293" y2="331"/><line x1="105" y1="445" x2="1293" y2="445"/><line x1="105" y1="558" x2="1293" y2="558"/></g>
<g class="d">
<rect x="227" y="312" width="77.8" height="14"/><rect x="304.75" y="298" width="77.8" height="14"/><rect x="382.5" y="175" width="77.8" height="14"/><rect x="460.25" y="276" width="77.8" height="14"/><rect x="538" y="318" width="77.8" height="14"/><rect x="615.75" y="221" width="77.8" height="14"/><rect x="693.5" y="106" width="77.8" height="14"/><rect x="771.25" y="459" width="77.8" height="14"/><rect x="849" y="117" width="77.8" height="14"/><rect x="926.75" y="335" width="77.8" height="14"/><rect x="1004.5" y="97" width="77.8" height="14"/><rect x="1082.25" y="126" width="77.8" height="14"/>
</g>
<rect class="ax" x="227" y="555" width="1066" height="13"/>
<g class="tk"><line x1="310" y1="540" x2="310" y2="580"/><line x1="395" y1="540" x2="395" y2="558"/><line x1="480" y1="540" x2="480" y2="558"/><line x1="565" y1="540" x2="565" y2="558"/><line x1="650" y1="540" x2="650" y2="580"/><line x1="735" y1="540" x2="735" y2="558"/><line x1="820" y1="540" x2="820" y2="558"/><line x1="905" y1="540" x2="905" y2="558"/><line x1="990" y1="540" x2="990" y2="580"/><line x1="1075" y1="540" x2="1075" y2="558"/><line x1="1160" y1="540" x2="1160" y2="558"/><line x1="1245" y1="540" x2="1245" y2="558"/></g>
<text class="yl" x="196" y="206">0</text><text class="yl" x="196" y="320">-4</text><text class="yl" x="196" y="434">-8</text><text class="yl" x="198" y="546">-12</text>
<text class="xl" x="268" y="621">2001</text><text class="xl" x="487" y="621">2002</text><text class="xl" x="832" y="621">2003</text><text class="xl" x="1123" y="621">2004</text>
</g>

<!-- R4P3 -->
<g transform="translate(860,690) scale(0.333333)">
<g class="w">
<rect x="232" y="492" width="84.9" height="66"/><rect x="316.8" y="477" width="84.9" height="81"/><rect x="401.6" y="393" width="84.9" height="165"/><rect x="486.4" y="324" width="84.9" height="234"/><rect x="571.2" y="346" width="84.9" height="212"/><rect x="656" y="247" width="84.9" height="311"/><rect x="740.8" y="321" width="84.9" height="237"/><rect x="825.6" y="244" width="84.9" height="314"/><rect x="910.4" y="213" width="84.9" height="345"/><rect x="995.2" y="137" width="84.9" height="421"/><rect x="1080" y="132" width="84.9" height="426"/>
</g>
<g class="gl"><line x1="111" y1="217" x2="1302" y2="217"/><line x1="111" y1="331" x2="1302" y2="331"/><line x1="111" y1="444" x2="1302" y2="444"/><line x1="111" y1="558" x2="1302" y2="558"/></g>
<g class="d">
<rect x="232" y="485" width="84.9" height="14"/><rect x="316.8" y="470" width="84.9" height="14"/><rect x="401.6" y="386" width="84.9" height="14"/><rect x="486.4" y="317" width="84.9" height="14"/><rect x="571.2" y="339" width="84.9" height="14"/><rect x="656" y="240" width="84.9" height="14"/><rect x="740.8" y="314" width="84.9" height="14"/><rect x="825.6" y="237" width="84.9" height="14"/><rect x="910.4" y="206" width="84.9" height="14"/><rect x="995.2" y="130" width="84.9" height="14"/><rect x="1080" y="125" width="84.9" height="14"/>
</g>
<rect class="ax" x="232" y="555" width="1070" height="13"/>
<g class="tk"><line x1="316.8" y1="540" x2="316.8" y2="580"/><line x1="401.6" y1="540" x2="401.6" y2="558"/><line x1="486.4" y1="540" x2="486.4" y2="558"/><line x1="571.2" y1="540" x2="571.2" y2="558"/><line x1="656" y1="540" x2="656" y2="580"/><line x1="740.8" y1="540" x2="740.8" y2="558"/><line x1="825.6" y1="540" x2="825.6" y2="558"/><line x1="910.4" y1="540" x2="910.4" y2="558"/><line x1="995.2" y1="540" x2="995.2" y2="580"/><line x1="1080" y1="540" x2="1080" y2="558"/><line x1="1164.8" y1="540" x2="1164.8" y2="558"/><line x1="1249.6" y1="540" x2="1249.6" y2="558"/></g>
<text class="yl" x="190" y="207">16</text><text class="yl" x="190" y="321">13</text><text class="yl" x="190" y="434">10</text><text class="yl" x="190" y="546">7</text>
<text class="xl" x="275" y="621">2001</text><text class="xl" x="487" y="621">2002</text><text class="xl" x="828" y="621">2003</text><text class="xl" x="1123" y="621">2004</text>
</g>

</svg>
</body></html>
